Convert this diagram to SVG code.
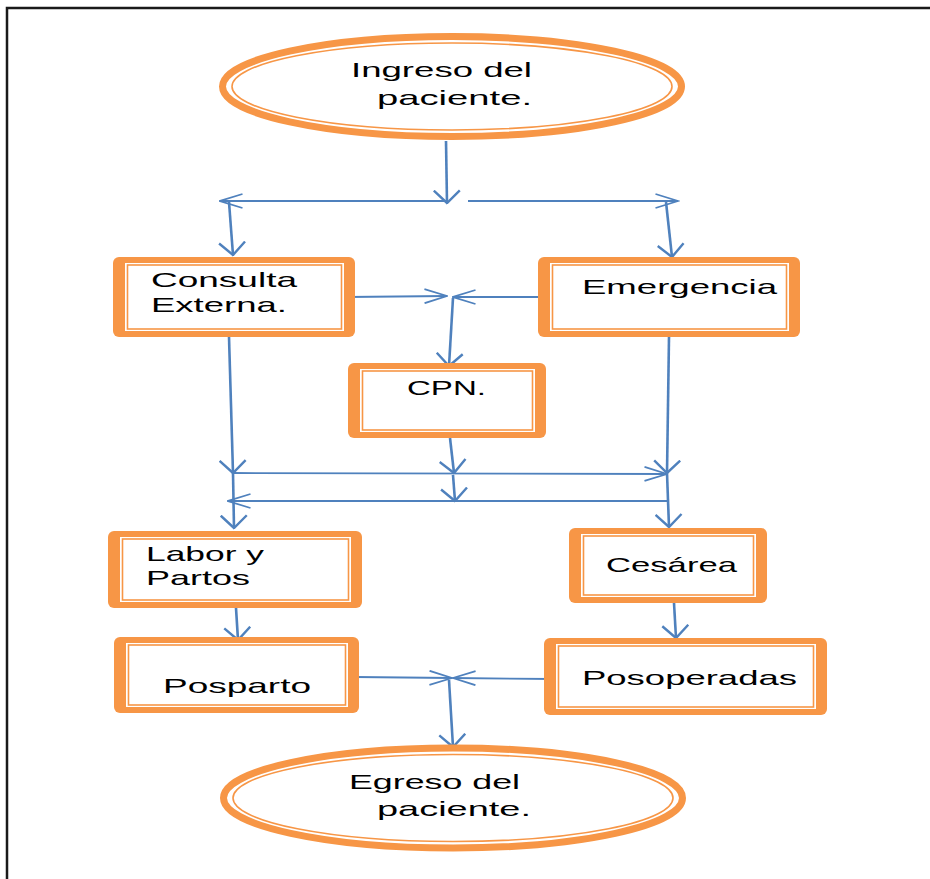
<svg xmlns="http://www.w3.org/2000/svg" width="930" height="879" viewBox="0 0 930 879">
<style>
.frame{fill:none;stroke:#1a1a1a;stroke-width:2.5}
.bo{fill:#F79646}
.bw{fill:#fff}
.bt{fill:none;stroke:#F79646;stroke-width:1.6}
.eo{fill:#fff;stroke:#F79646;stroke-width:7}
.et{fill:none;stroke:#F79646;stroke-width:1.6}
.t{font-family:"Liberation Sans",Arial,sans-serif;font-size:21px;fill:#000}
.cv{fill:none;stroke:#4F81BD;stroke-width:2.6;marker-end:url(#aw)}
.ch{fill:none;stroke:#4F81BD;stroke-width:1.8;marker-end:url(#an)}
</style>
<defs>
<marker id="aw" viewBox="0 0 15 28" refX="13.5" refY="14" markerWidth="15" markerHeight="28" markerUnits="userSpaceOnUse" orient="auto">
<path d="M1,1 L13.5,14 L1,27" fill="none" stroke="#4F81BD" stroke-width="2.4"/>
</marker>
<marker id="an" viewBox="0 0 25 16" refX="23.5" refY="8" markerWidth="25" markerHeight="16" markerUnits="userSpaceOnUse" orient="auto">
<path d="M1,1 L23.5,8 L1,15" fill="none" stroke="#4F81BD" stroke-width="1.8"/>
</marker>
</defs>
<rect width="930" height="879" fill="#fff"/>
<rect class="frame" x="7" y="8" width="1000" height="1000"/>

<g id="connectors">
<path class="cv" d="M446,141 L447,203"/>
<path class="ch" d="M447,201 L220,201"/>
<path class="ch" d="M468,201 L678,201"/>
<path class="cv" d="M229,202 L233,255"/>
<path class="cv" d="M666,202 L672,257"/>
<path class="ch" d="M347,297 L447,296"/>
<path class="ch" d="M548,297 L453,297"/>
<path class="cv" d="M453,298 L449,366"/>
<path class="cv" d="M229,337 L233,473"/>
<path class="cv" d="M233,473 L234,528"/>
<path class="ch" d="M233,473 L667,474"/>
<path class="cv" d="M450,438 L454,473"/>
<path class="cv" d="M453,475 L455,501"/>
<path class="ch" d="M667,501 L228,501"/>
<path class="cv" d="M669,337 L667,473"/>
<path class="cv" d="M667,473 L669,527"/>
<path class="cv" d="M236,608 L238,640"/>
<path class="cv" d="M674,603 L676,638"/>
<path class="ch" d="M355,677 L452,678"/>
<path class="ch" d="M553,679 L453,678"/>
<path class="cv" d="M449,680 L453,747"/>
</g>

<g id="ingreso">
<ellipse class="eo" cx="452" cy="86.5" rx="229.5" ry="50"/>
<ellipse class="et" cx="452" cy="86.5" rx="220" ry="43.5"/>
<text class="t" x="351" y="77" textLength="181" lengthAdjust="spacingAndGlyphs">Ingreso del</text>
<text class="t" x="377" y="105" textLength="155" lengthAdjust="spacingAndGlyphs">paciente.</text>
</g>

<g id="consulta">
<rect class="bo" x="113" y="257" width="242" height="80" rx="6"/>
<rect class="bw" x="125" y="263" width="219" height="68"/>
<rect class="bt" x="127.5" y="265" width="214" height="64"/>
<text class="t" x="151" y="287" textLength="146" lengthAdjust="spacingAndGlyphs">Consulta</text>
<text class="t" x="151" y="312" textLength="136" lengthAdjust="spacingAndGlyphs">Externa.</text>
</g>

<g id="emergencia">
<rect class="bo" x="538" y="257" width="262" height="80" rx="6"/>
<rect class="bw" x="550" y="263" width="239" height="68"/>
<rect class="bt" x="552.5" y="265" width="234" height="64"/>
<text class="t" x="582" y="294" textLength="195" lengthAdjust="spacingAndGlyphs">Emergencia</text>
</g>

<g id="cpn">
<rect class="bo" x="348" y="363" width="198" height="75" rx="6"/>
<rect class="bw" x="360" y="369" width="175" height="63"/>
<rect class="bt" x="362.5" y="371" width="170" height="59"/>
<text class="t" x="407" y="395" textLength="79" lengthAdjust="spacingAndGlyphs">CPN.</text>
</g>

<g id="labor">
<rect class="bo" x="108" y="531" width="254" height="77" rx="6"/>
<rect class="bw" x="120" y="537" width="231" height="65"/>
<rect class="bt" x="122.5" y="539" width="226" height="61"/>
<text class="t" x="146" y="561" textLength="118" lengthAdjust="spacingAndGlyphs">Labor y</text>
<text class="t" x="146" y="585" textLength="104" lengthAdjust="spacingAndGlyphs">Partos</text>
</g>

<g id="cesarea">
<rect class="bo" x="569" y="528" width="198" height="75" rx="6"/>
<rect class="bw" x="581" y="534" width="175" height="63"/>
<rect class="bt" x="583.5" y="536" width="170" height="59"/>
<text class="t" x="606" y="572" textLength="131" lengthAdjust="spacingAndGlyphs">Cesárea</text>
</g>

<g id="posparto">
<rect class="bo" x="114" y="637" width="245" height="76" rx="6"/>
<rect class="bw" x="126" y="643" width="222" height="64"/>
<rect class="bt" x="128.5" y="645" width="217" height="60"/>
<text class="t" x="163" y="693" textLength="148" lengthAdjust="spacingAndGlyphs">Posparto</text>
</g>

<g id="posoperadas">
<rect class="bo" x="544" y="638" width="283" height="77" rx="6"/>
<rect class="bw" x="556" y="644" width="260" height="65"/>
<rect class="bt" x="558.5" y="646" width="255" height="61"/>
<text class="t" x="582" y="685" textLength="215" lengthAdjust="spacingAndGlyphs">Posoperadas</text>
</g>

<g id="egreso">
<ellipse class="eo" cx="453" cy="798" rx="229.5" ry="50"/>
<ellipse class="et" cx="453" cy="798" rx="220" ry="43.5"/>
<text class="t" x="349" y="789" textLength="171" lengthAdjust="spacingAndGlyphs">Egreso del</text>
<text class="t" x="377" y="816" textLength="154" lengthAdjust="spacingAndGlyphs">paciente.</text>
</g>
</svg>
